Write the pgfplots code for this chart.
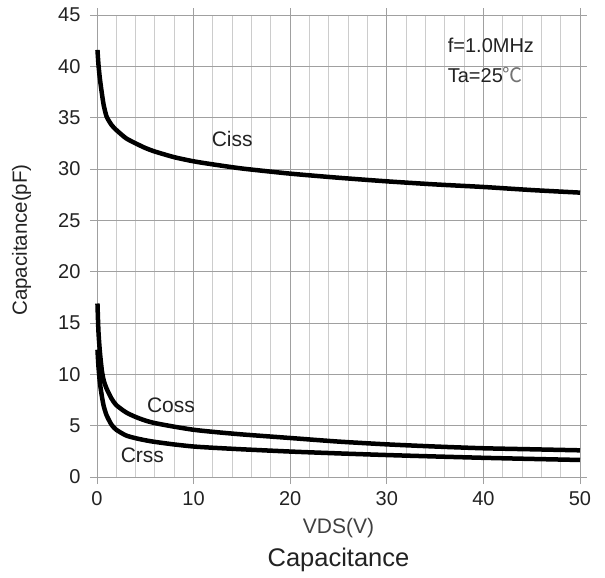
\documentclass[border=0pt]{standalone}
\usepackage{pgfplots}
\pgfplotsset{compat=1.18}
\usepackage{fontspec}
\setmainfont{Liberation Sans}
\newfontfamily\cjk{Noto Sans CJK SC}
\definecolor{gridmajor}{HTML}{A0A0A0}
\definecolor{gridminor}{HTML}{CCCCCC}
\definecolor{txt}{HTML}{222222}

\begin{document}
\begin{tikzpicture}
\begin{axis}[
    scale only axis,
    width=483pt, height=462pt,
    xmin=0, xmax=50, ymin=0, ymax=45,
    xtick={0,10,...,50},
    ytick={0,5,...,45},
    minor x tick num=4,
    grid=both,
    major grid style={gridmajor, line width=0.9pt},
    minor grid style={gridminor, line width=0.9pt},
    axis line style={gridmajor, line width=0.9pt},
    tick style={gridmajor, line width=0.9pt},
    tick align=outside,
    major tick length=7pt,
    minor tick length=0pt,
    /pgf/number format/assume math mode=true,
    tick label style={font=\fontsize{20}{24}\selectfont, text=txt},
    yticklabel style={xshift=-6pt},
    xticklabel style={yshift=-4pt},
    xlabel={VDS(V)},
    xlabel style={at={(rel axis cs:0.5,-0.1212)}, anchor=base,
                  font=\fontsize{21}{25}\selectfont, text=black!75},
    ylabel={Capacitance(pF)},
    ylabel style={at={(rel axis cs:-0.156,0.513)}, anchor=center,
                  font=\fontsize{20.5}{24}\selectfont, text=txt},
    clip=false,
]
% Ciss
\addplot[black, line width=4.5pt, smooth, tension=0.4] coordinates {
  (0.05,41.6) (0.15,40.2) (0.3,38.8) (0.5,37.4) (0.7,36.2) (1,35.1)
  (1.5,34.3) (2,33.8) (3,33.0) (4,32.5) (5,32.05) (6,31.7) (8,31.15)
  (10,30.75) (12,30.45) (15,30.05) (20,29.55) (25,29.15) (30,28.8)
  (35,28.5) (40,28.25) (45,27.95) (50,27.7)};
% Coss
\addplot[black, line width=4.5pt, smooth, tension=0.4] coordinates {
  (0.05,16.9) (0.15,14.2) (0.3,12.2) (0.5,10.4) (0.7,9.4) (1,8.6)
  (1.5,7.65) (2,7.0) (3,6.3) (4,5.85) (5,5.5) (6,5.25) (8,4.9)
  (10,4.6) (12,4.4) (15,4.15) (20,3.8) (25,3.45) (30,3.18)
  (35,2.97) (40,2.8) (45,2.7) (50,2.6)};
% Crss
\addplot[black, line width=4.5pt, smooth, tension=0.4] coordinates {
  (0.05,12.4) (0.15,10.8) (0.3,9.2) (0.5,7.9) (0.7,6.9) (1,6.0)
  (1.5,5.1) (2,4.6) (3,4.05) (4,3.78) (5,3.58) (6,3.42) (8,3.17)
  (10,2.97) (12,2.85) (15,2.7) (20,2.48) (25,2.3) (30,2.14)
  (35,2.0) (40,1.87) (45,1.76) (50,1.66)};
\node[font=\fontsize{21}{25}\selectfont, text=txt] at (axis cs:14.0,32.9) {Ciss};
\node[font=\fontsize{21}{25}\selectfont, text=txt] at (axis cs:7.66,7.0) {Coss};
\node[font=\fontsize{21}{25}\selectfont, text=txt] at (axis cs:4.7,2.14) {Crss};
\node[font=\fontsize{20}{24}\selectfont, text=txt, anchor=west, inner sep=0pt] at (axis cs:36.3,42.06) {f=1.0MHz};
\node[font=\fontsize{20}{24}\selectfont, text=txt, anchor=west, inner sep=0pt] at (axis cs:36.3,39.2) {Ta=25{\cjk\color{black!55}℃}};
\node[font=\fontsize{25.5}{30}\selectfont, text=txt, anchor=base] at (rel axis cs:0.5,-0.1934) {Capacitance};
\path (rel axis cs:-0.2008,1.0325) rectangle (rel axis cs:1.0518,-0.2186);
\end{axis}
\end{tikzpicture}
\end{document}
